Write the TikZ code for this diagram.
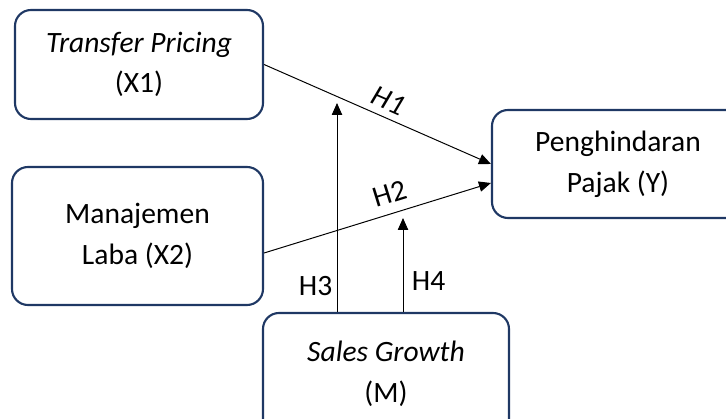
\documentclass[tikz,border=0pt]{standalone}
\usepackage{fontspec}
\setmainfont{Carlito}
\usetikzlibrary{arrows.meta}

\definecolor{boxblue}{HTML}{1F3864}
\tikzset{
  varbox/.style={draw=boxblue, line width=1.5pt, rounded corners=0.4cm, align=center,
    inner sep=0pt, font=\fontsize{21}{29}\selectfont},
  link/.style={-{Triangle[length=0.3cm,width=0.26cm]}, line width=0.7pt},
  hyp/.style={inner sep=1pt, font=\fontsize{21}{24}\selectfont}
}

\begin{document}
\begin{tikzpicture}
	\useasboundingbox (0,0) rectangle (18.15,10.475);
	\clip (0,0) rectangle (18.15,10.475);
	% variables
	\node[varbox, minimum width=6.2cm, minimum height=2.725cm] (tp) at (3.475,8.8625) {\textit{Transfer Pricing}\\(X1)};
	\node[varbox, minimum width=6.275cm, minimum height=3.45cm] (ml) at (3.4375,4.575) {Manajemen\\Laba (X2)};
	\node[varbox, minimum width=6.3cm, minimum height=2.7cm] (pp) at (15.45,6.375) {Penghindaran\\Pajak (Y)};
	\node[varbox, minimum width=6.15cm, minimum height=3.05cm] (sg) at (9.65,1.125) {\textit{Sales Growth}\\(M)};
	% moderation ends
	\coordinate (h3end) at (8.425,7.9);
	\coordinate (h4end) at (10.075,5.025);
	% hypotheses
	\draw[link] (tp.east) -- (pp.west) node[hyp, pos=0.52, above=4pt, sloped] {\textit{H1}};
	\draw[link] ([yshift=-0.425cm]ml.east) -- ([yshift=-0.475cm]pp.west) node[hyp, pos=0.58, above=6pt, sloped] {H2};
	\draw[link] (sg.north -| h3end) -- (h3end) node[hyp, pos=0.124, left=2pt] {H3};
	\draw[link] (sg.north -| h4end) -- (h4end) node[hyp, pos=0.33, right=5pt] {H4};
\end{tikzpicture}
\end{document}
